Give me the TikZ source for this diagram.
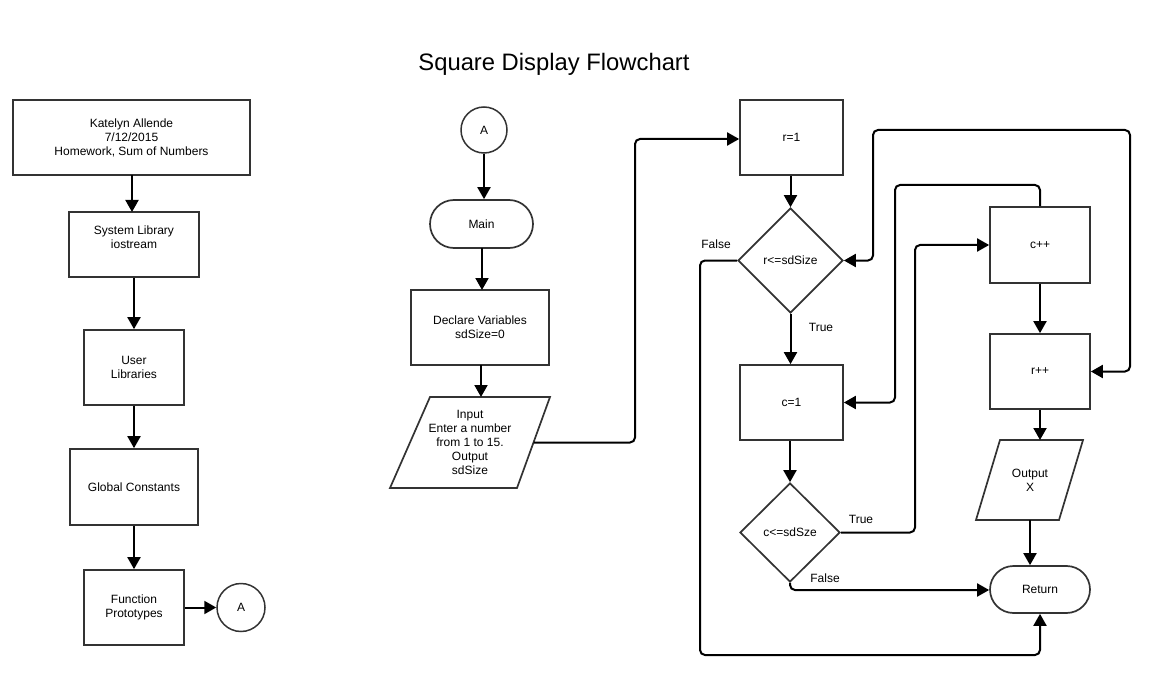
\documentclass[tikz,border=0pt]{standalone}
\usepackage{fontspec}
\setmainfont{Liberation Sans}
\usetikzlibrary{shapes.geometric,arrows.meta}
\begin{document}
\begin{tikzpicture}[x=1pt,y=-1pt,
  every node/.style={font=\fontsize{12}{14}\selectfont, align=center, inner sep=0pt},
  box/.style={draw=black!80, line width=1.7pt, rectangle},
  term/.style={draw=black!80, line width=1.7pt, rectangle, rounded corners=23.5pt},
  circ/.style={draw=black!80, line width=1.5pt, circle},
  dia/.style={draw=black!80, line width=1.7pt, diamond},
  para/.style={draw=black!80, line width=1.7pt},
  arr/.style={draw=black, line width=2pt, -{Triangle[length=12pt,width=13pt]}, rounded corners=5pt},
  arrtwo/.style={draw=black, line width=2pt, {Triangle[length=12pt,width=13pt]}-{Triangle[length=12pt,width=13pt]}, rounded corners=5pt},
  lab/.style={font=\fontsize{12}{14}\selectfont}]
\useasboundingbox (0,0) rectangle (1154,679);

\node (title) at (554,64) {\fontsize{23.8}{28}\selectfont Square Display Flowchart};

% left column
\node[box, minimum width=237, minimum height=75] (kat) at (131.5,137.5) {Katelyn Allende\\7/12/2015\\Homework, Sum of Numbers};
\node[box, minimum width=130, minimum height=65] (sys) at (134,244.5) {System Library\\iostream\\\phantom{x}};
\node[box, minimum width=100, minimum height=75] (usr) at (134,367.5) {User\\Libraries};
\node[box, minimum width=128, minimum height=76] (glob) at (134,487) {Global Constants};
\node[box, minimum width=100, minimum height=75] (func) at (134,607.5) {Function\\Prototypes};
\node[circ, minimum size=48] (a1) at (241,607.5) {A};

\draw[arr] (132,175) -- (132,212);
\draw[arr] (usr.north |- sys.south) -- (usr.north);
\draw[arr] (usr.south) -- (glob.north);
\draw[arr] (glob.south) -- (func.north);
\draw[arr] (func.east) -- (a1.west);

% middle column
\node[circ, minimum size=46] (a2) at (484,130) {A};
\node[term, minimum width=103, minimum height=48, rounded corners=24pt] (main) at (481.5,224) {Main};
\node[box, minimum width=138, minimum height=75] (decl) at (480,327.5) {Declare Variables\\sdSize=0};
\draw[para] (430,397) -- (550,397) -- (517,488) -- (390,488) -- cycle;
\node (inp) at (470,442.5) {Input\\Enter a number\\from 1 to 15.\\Output\\sdSize};
\coordinate (inpR) at (533.5,442.5);
\coordinate (inpT) at (481,397);

\draw[arr] (a2.south) -- (a2.south |- main.north);
\draw[arr] (482,248) -- (482,290);
\draw[arr] (481,365) -- (inpT);

% right part
\node[box, minimum width=103, minimum height=75] (r1) at (791.5,137.5) {r=1};
\node[dia, minimum width=105, minimum height=105] (d1) at (790.5,260.5) {r<=sdSize};
\node[box, minimum width=103, minimum height=75] (c1) at (791.5,402.5) {c=1};
\node[dia, minimum width=100, minimum height=99] (d2) at (790,532.5) {c<=sdSze};
\node[box, minimum width=100, minimum height=76] (cpp) at (1040,245) {c++};
\node[box, minimum width=100, minimum height=75] (rpp) at (1040,371.5) {r++};
\draw[para] (1000,440) -- (1083,440) -- (1059,520) -- (976,520) -- cycle;
\node (outx) at (1030,480) {Output\\X};
\coordinate (outT) at (1040,440);
\coordinate (outB) at (1030,520);
\node[term, minimum width=100, minimum height=47] (ret) at (1040,589.5) {Return};

\draw[arr] (inpR) -- (635,442.5) -- (635,139) -- (r1.west |- 0,139);
\draw[arr] (r1.south -| d1.north) -- (d1.north);
\draw[arr] (d1.west) -- (700,260.5) -- (700,655) -- (1040,655) -- (ret.south);
\draw[arr] (d1.south) -- (d1.south |- c1.north);
\draw[arr] (c1.south -| d2.north) -- (d2.north);
\draw[arr] (d2.east) -- (915,532.5) -- (915,245) -- (cpp.west);
\draw[arr] (d2.south) -- (790,590) -- (ret.west |- 0,590);
\draw[arr] (cpp.north) -- (1040,185) -- (895,185) -- (895,402.5) -- (c1.east);
\draw[arrtwo] (rpp.east) -- (1130,371.5) -- (1130,130) -- (873,130) -- (873,260.5) -- (d1.east);
\draw[arr] (cpp.south) -- (rpp.north);
\draw[arr] (rpp.south) -- (outT);
\draw[arr] (outB) -- (outB |- ret.north);

\node[lab] (lf1) at (716,244) {False};
\node[lab] (lt1) at (821,327) {True};
\node[lab] (lt2) at (861,519) {True};
\node[lab] (lf2) at (825,578) {False};
\end{tikzpicture}
\end{document}
